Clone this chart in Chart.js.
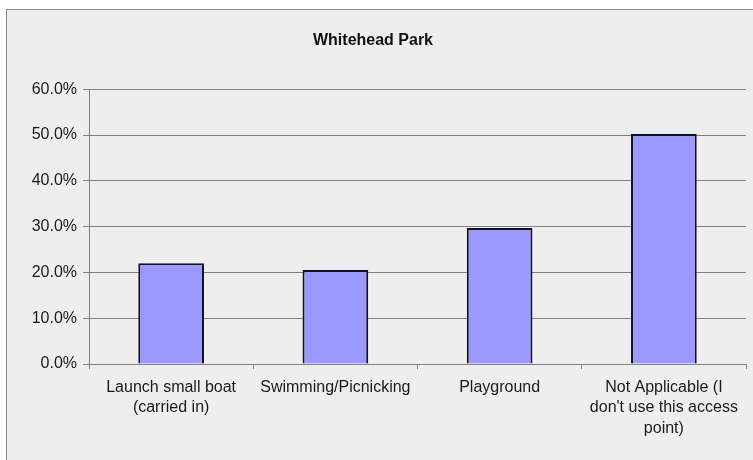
<!DOCTYPE html>
<html>
<head>
<meta charset="utf-8">
<script src="https://cdn.jsdelivr.net/npm/chart.js@4"></script>
<style>
  body { margin: 0; background: #ffffff; overflow: hidden; }
  #frame {
    position: absolute; left: 6px; top: 9px; width: 770px; height: 480px;
    background: #eeeeee; border: 1px solid #8a8a8a;
  }
  #wrap { position: absolute; left: 0; top: 0; width: 772px; height: 460px; }
</style>
</head>
<body>
<div id="frame"></div>
<div id="wrap"><canvas id="chart"></canvas></div>
<script>
const categories = [
  ["Launch small boat", "(carried in)"],
  "Swimming/Picnicking",
  "Playground",
  ["Not Applicable (I", "don't use this access", "point)"]
];
const percentValues = [22.0, 20.5, 29.7, 50.2];
const yTicks = [0, 10, 20, 30, 40, 50, 60];

const ctx = document.getElementById("chart").getContext("2d");
new Chart(ctx, {
  type: "bar",
  data: {
    labels: categories,
    datasets: [
      {
        label: "Whitehead Park",
        data: percentValues,
        backgroundColor: "#9999ff",
        borderColor: "#10102a",
        borderWidth: 2,
        categoryPercentage: 0.8,
        barPercentage: 0.5,
      },
    ],
  },
  options: {
    responsive: true,
    maintainAspectRatio: false,
    animation: false,
    layout: { padding: { left: 0, right: 26, top: 0, bottom: 0 } },
    plugins: {
      legend: { display: false },
      tooltip: { enabled: false },
      title: {
        display: true,
        text: "Whitehead Park",
        color: "#111111",
        font: { family: "'Liberation Sans', Arial, sans-serif", size: 16, weight: "bold" },
        padding: { top: 31, bottom: 39 },
      },
    },
    scales: {
      x: {
        grid: {
          display: true,
          offset: true,
          drawOnChartArea: false,
          drawTicks: true,
          tickLength: 5,
          color: "#808080",
        },
        border: { color: "#808080", width: 1 },
        ticks: {
          color: "#1a1a1a",
          font: { family: "'Liberation Sans', Arial, sans-serif", size: 16, lineHeight: 1.28 },
          padding: 8,
          maxRotation: 0,
          autoSkip: false,
        },
        afterFit: (scale) => { scale.height = 96; },
      },
      y: {
        min: 0,
        max: 60,
        afterBuildTicks: (scale) => { scale.ticks = yTicks.map((v) => ({ value: v })); },
        grid: { color: "#808080", lineWidth: 1, tickLength: 6 },
        border: { color: "#808080", width: 1 },
        ticks: {
          color: "#1a1a1a",
          font: { family: "'Liberation Sans', Arial, sans-serif", size: 16 },
          padding: 6,
          callback: (v) => v.toFixed(1) + "%",
        },
        afterFit: (scale) => { scale.width = 89; },
      },
    },
  },
});
</script>
</body>
</html>
